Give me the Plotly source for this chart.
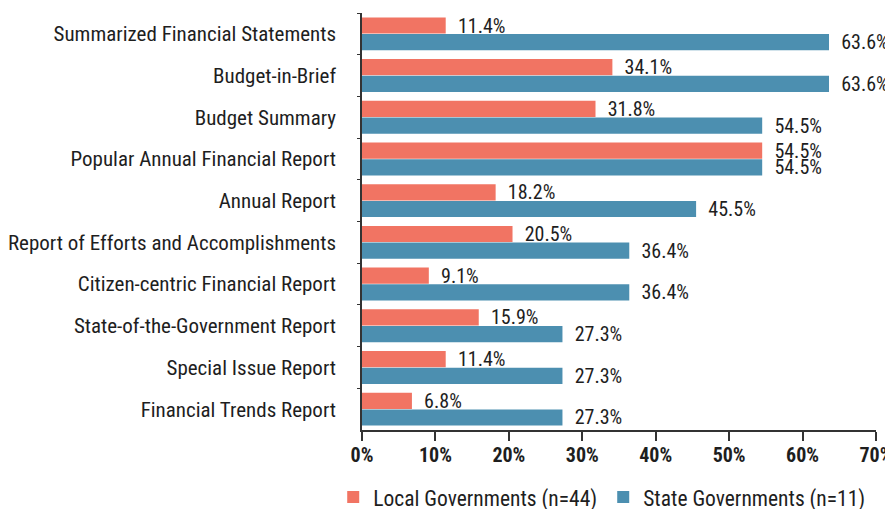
import plotly.graph_objects as go

categories = [
    "Summarized Financial Statements",
    "Budget-in-Brief",
    "Budget Summary",
    "Popular Annual Financial Report",
    "Annual Report",
    "Report of Efforts and Accomplishments",
    "Citizen-centric Financial Report",
    "State-of-the-Government Report",
    "Special Issue Report",
    "Financial Trends Report",
]
local_vals = [11.4, 34.1, 31.8, 54.5, 18.2, 20.5, 9.1, 15.9, 11.4, 6.8]
state_vals = [63.6, 63.6, 54.5, 54.5, 45.5, 36.4, 36.4, 27.3, 27.3, 27.3]
tick_vals = [0, 10, 20, 30, 40, 50, 60, 70]
tick_text = ["0%", "10%", "20%", "30%", "40%", "50%", "60%", "70%"]

FONT = "Roboto Condensed, DejaVu Sans Condensed, sans-serif"
LOCAL_C = "#F17463"
STATE_C = "#4C8FB0"
PAD = "\u00a0\u00a0"

fig = go.Figure()
fig.add_trace(go.Bar(
    y=categories, x=local_vals, orientation="h", name="Local Governments (n=44)",
    marker=dict(color=LOCAL_C, line=dict(width=0)),
    text=[f"{PAD}{v:.1f}%" for v in local_vals], textposition="outside", constraintext="none",
    textfont=dict(family=FONT, size=20, color="#1e1e1e"), cliponaxis=False,
))
fig.add_trace(go.Bar(
    y=categories, x=state_vals, orientation="h", name="State Governments (n=11)",
    marker=dict(color=STATE_C, line=dict(width=0)),
    text=[f"{PAD}{v:.1f}%" for v in state_vals], textposition="outside", constraintext="none",
    textfont=dict(family=FONT, size=20, color="#1e1e1e"), cliponaxis=False,
))

fig.update_layout(
    width=885, height=530,
    margin=dict(l=354, r=17, t=5, b=108),
    barmode="group", bargap=0.2, bargroupgap=0.03,
    plot_bgcolor="white", paper_bgcolor="white",
    font=dict(family=FONT, size=21, color="#1e1e1e"),
    xaxis=dict(range=[0, 70], tickvals=tick_vals, ticktext=tick_text, automargin=False,
               showgrid=False, zeroline=False, showline=True, linecolor="#333", linewidth=1.5,
               ticks="outside", ticklen=9, tickcolor="#333", tickwidth=1.5, ticklabelstandoff=-3,
               tickfont=dict(family=FONT, size=20, color="#1e1e1e", weight="bold")),
    yaxis=dict(autorange="reversed", showgrid=False, zeroline=False, showline=True, automargin=False,
               linecolor="#333", linewidth=1.5, ticks="outside", tickson="boundaries",
               ticklen=3, tickcolor="#333", ticklabelstandoff=20,
               tickfont=dict(family=FONT, size=21, color="#1e1e1e")),
    legend=dict(orientation="h", x=-0.056, xanchor="left", y=-0.161, yanchor="middle",
                font=dict(family=FONT, size=21.5, color="#1e1e1e"), entrywidth=225, traceorder="normal"),
    showlegend=True,
)

fig.write_html("out.html")
